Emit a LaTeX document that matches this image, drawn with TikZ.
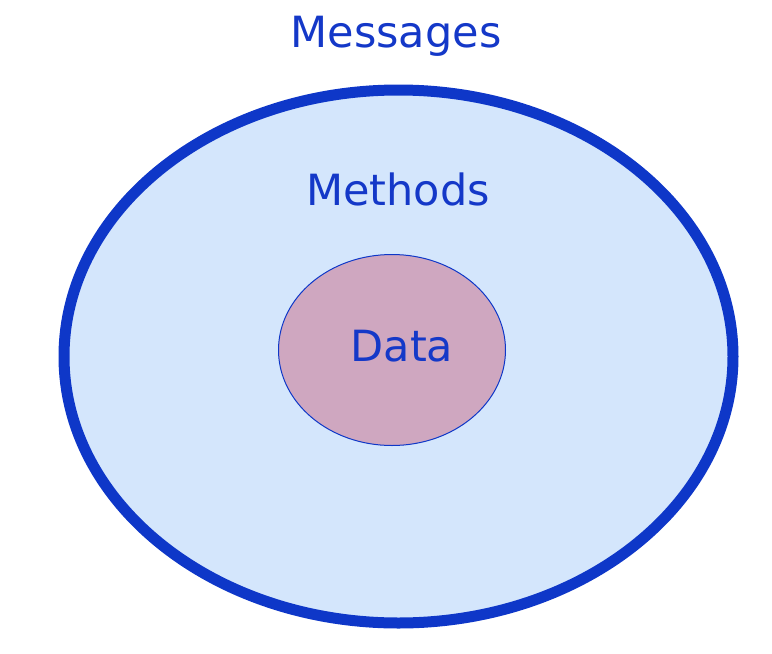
\documentclass[tikz,border=0pt]{standalone}
\usepackage{fontspec}
\setmainfont{DejaVu Sans}
\usetikzlibrary{shapes.geometric}
\definecolor{dkblue}{HTML}{0E37C8}
\definecolor{txtblue}{HTML}{1438C8}
\definecolor{lightfill}{HTML}{D4E6FC}
\definecolor{datafill}{HTML}{CFA7C0}
\tikzset{
  lbl/.style={text=txtblue, font=\fontsize{43}{47}\selectfont, inner sep=0pt},
  outerell/.style={ellipse, draw=dkblue, line width=11pt, fill=lightfill, inner sep=0pt},
  innerell/.style={ellipse, draw=dkblue, line width=1pt, fill=datafill, inner sep=0pt}
}
\begin{document}
\begin{tikzpicture}[x=1pt,y=-1pt]
\useasboundingbox (0,0) rectangle (772,654);
\node[outerell, minimum width=669pt, minimum height=533pt] (methodsell) at (398.5,356.5) {};
\node[innerell, minimum width=227pt, minimum height=191pt] (datell) at (392,350) {};
\node[lbl] (messages) at (396,36) {Messages};
\node[lbl] (methods) at (398,189) {Methods};
\node[lbl] (data) at (402,346) {Data};
\end{tikzpicture}
\end{document}
